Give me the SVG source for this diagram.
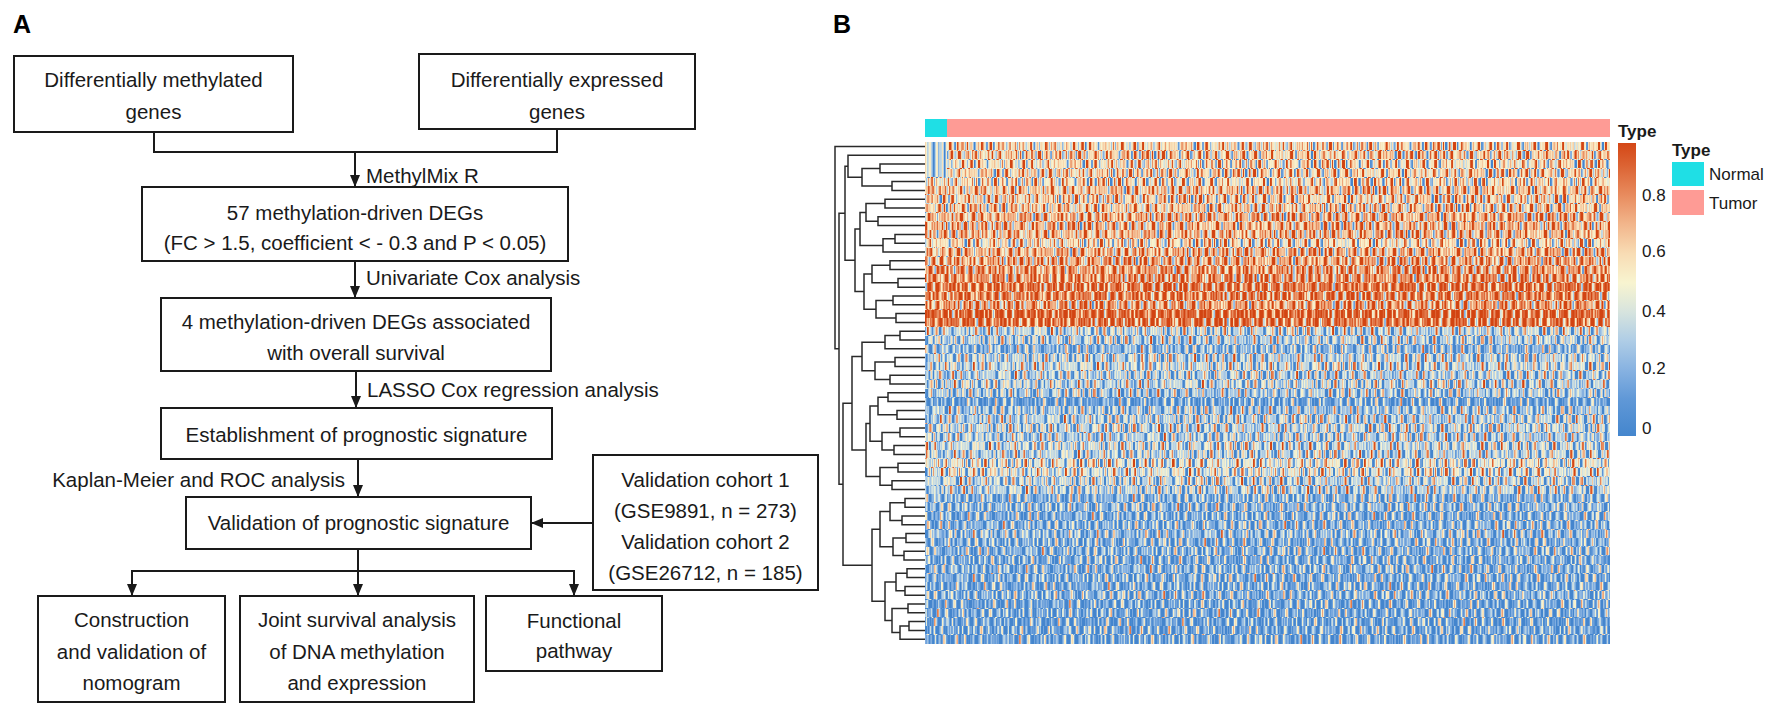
<svg xmlns="http://www.w3.org/2000/svg" width="1772" height="714" viewBox="0 0 1772 714">
<style>
.box{fill:#fff;stroke:#1a1a1a;stroke-width:2}
.t{font-family:"Liberation Sans",Arial,sans-serif;font-size:20.5px;fill:#1a1a1a;text-anchor:middle}
.lbl{font-family:"Liberation Sans",Arial,sans-serif;font-size:20.5px;fill:#1a1a1a}
.conn{fill:none;stroke:#1a1a1a;stroke-width:2}
.dendro{fill:none;stroke:#2a2a2a;stroke-width:1.5}
.panel{font-family:"Liberation Sans",Arial,sans-serif;font-size:25px;font-weight:bold;fill:#000}
.leg{font-family:"Liberation Sans",Arial,sans-serif;font-size:17px;fill:#1a1a1a}
.legb{font-family:"Liberation Sans",Arial,sans-serif;font-size:17px;font-weight:bold;fill:#1a1a1a}
</style>
<defs>
<marker id="arr" viewBox="0 0 12 10" refX="12" refY="5" markerWidth="12" markerHeight="10" markerUnits="userSpaceOnUse" orient="auto">
<path d="M0,0 L12,5 L0,10 z" fill="#1a1a1a"/>
</marker>
<linearGradient id="cbar" x1="0" y1="0" x2="0" y2="1">
<stop offset="0" stop-color="#d44716"/>
<stop offset="0.079" stop-color="#dc6434"/>
<stop offset="0.179" stop-color="#e88c5f"/>
<stop offset="0.278" stop-color="#f2b68c"/>
<stop offset="0.377" stop-color="#f8dcb4"/>
<stop offset="0.477" stop-color="#f8f4d0"/>
<stop offset="0.576" stop-color="#d7e4de"/>
<stop offset="0.675" stop-color="#afcde6"/>
<stop offset="0.775" stop-color="#87b2e1"/>
<stop offset="0.874" stop-color="#6098d7"/>
<stop offset="1" stop-color="#4486cd"/>
</linearGradient>
<clipPath id="hmClip"><rect x="925" y="142" width="685" height="502"/></clipPath>
<filter id="hmNoise" x="690" y="130" width="1160" height="530" filterUnits="userSpaceOnUse" primitiveUnits="userSpaceOnUse" color-interpolation-filters="sRGB">
<feTurbulence type="fractalNoise" baseFrequency="0.25 0" numOctaves="2" seed="11" result="t"/>
<feColorMatrix in="t" type="matrix" values="1 0 0 0 0  1 0 0 0 0  1 0 0 0 0  0 0 0 0 1" result="n"/>
<feDisplacementMap in="n" in2="SourceGraphic" scale="400" xChannelSelector="G" yChannelSelector="B" result="dn"/>
<feColorMatrix in="SourceGraphic" type="matrix" values="1 0 0 0 0  1 0 0 0 0  1 0 0 0 0  0 0 0 1 0" result="val"/>
<feComposite in="val" in2="dn" operator="arithmetic" k1="0" k2="1" k3="2.6" k4="-1.3" result="v"/>
<feComponentTransfer in="v" x="925" y="142" width="685" height="502">
<feFuncR type="table" tableValues="0.267 0.376 0.529 0.686 0.843 0.973 0.973 0.949 0.910 0.863 0.824"/>
<feFuncG type="table" tableValues="0.525 0.596 0.698 0.804 0.894 0.957 0.863 0.714 0.549 0.392 0.267"/>
<feFuncB type="table" tableValues="0.804 0.843 0.882 0.902 0.871 0.816 0.706 0.549 0.373 0.204 0.071"/>
</feComponentTransfer>
</filter>
</defs>
<rect width="1772" height="714" fill="#fff"/>

<text class="panel" x="13" y="33">A</text>
<text class="panel" x="833" y="33">B</text>

<g id="connectors">
<path class="conn" d="M154 132 V152 H557 V129"/>
<path class="conn" d="M355 152 V187" marker-end="url(#arr)"/>
<path class="conn" d="M355 261 V298" marker-end="url(#arr)"/>
<path class="conn" d="M356 371 V408" marker-end="url(#arr)"/>
<path class="conn" d="M358 459 V497" marker-end="url(#arr)"/>
<path class="conn" d="M593 523 H531" marker-end="url(#arr)"/>
<path class="conn" d="M358 549 V596" marker-end="url(#arr)"/>
<path class="conn" d="M132 596 V571 H574 V596"/>
<path class="conn" d="M132 571 V596" marker-end="url(#arr)"/>
<path class="conn" d="M574 571 V596" marker-end="url(#arr)"/>
<text class="lbl" x="366" y="183">MethylMix R</text>
<text class="lbl" x="366" y="285">Univariate Cox analysis</text>
<text class="lbl" x="367" y="397">LASSO Cox regression analysis</text>
<text class="lbl" x="345" y="487" text-anchor="end">Kaplan-Meier and ROC analysis</text>
</g>

<g id="dmg">
<rect class="box" x="14" y="56" width="279" height="76"/>
<text class="t" x="153.5" y="87">Differentially methylated</text>
<text class="t" x="153.5" y="119">genes</text>
</g>
<g id="deg">
<rect class="box" x="419" y="54" width="276" height="75"/>
<text class="t" x="557" y="87">Differentially expressed</text>
<text class="t" x="557" y="119">genes</text>
</g>
<g id="md57">
<rect class="box" x="142" y="187" width="426" height="74"/>
<text class="t" x="355" y="220">57 methylation-driven DEGs</text>
<text class="t" x="355" y="250">(FC &gt; 1.5, coefficient &lt; - 0.3 and P &lt; 0.05)</text>
</g>
<g id="md4">
<rect class="box" x="161" y="298" width="390" height="73"/>
<text class="t" x="356" y="329">4 methylation-driven DEGs associated</text>
<text class="t" x="356" y="360">with overall survival</text>
</g>
<g id="establish">
<rect class="box" x="161" y="408" width="391" height="51"/>
<text class="t" x="356.5" y="442">Establishment of prognostic signature</text>
</g>
<g id="validation">
<rect class="box" x="186" y="497" width="345" height="52"/>
<text class="t" x="358.5" y="530">Validation of prognostic signature</text>
</g>
<g id="cohorts">
<rect class="box" x="593" y="455" width="225" height="135"/>
<text class="t" x="705.5" y="487">Validation cohort 1</text>
<text class="t" x="705.5" y="518">(GSE9891, n = 273)</text>
<text class="t" x="705.5" y="549">Validation cohort 2</text>
<text class="t" x="705.5" y="580">(GSE26712, n = 185)</text>
</g>
<g id="nomogram">
<rect class="box" x="38" y="596" width="187" height="106"/>
<text class="t" x="131.5" y="627">Construction</text>
<text class="t" x="131.5" y="659">and validation of</text>
<text class="t" x="131.5" y="690">nomogram</text>
</g>
<g id="joint">
<rect class="box" x="240" y="596" width="234" height="106"/>
<text class="t" x="357" y="627">Joint survival analysis</text>
<text class="t" x="357" y="659">of DNA methylation</text>
<text class="t" x="357" y="690">and expression</text>
</g>
<g id="functional">
<rect class="box" x="486" y="596" width="176" height="75"/>
<text class="t" x="574" y="628">Functional</text>
<text class="t" x="574" y="658">pathway</text>
</g>

<g id="heatmap">
<g id="annotation">
<rect x="925" y="119" width="22" height="18" fill="#1fdfe5"/>
<rect x="947" y="119" width="663" height="18" fill="#fe9b95"/>
</g>
<g clip-path="url(#hmClip)">
<g id="cells" filter="url(#hmNoise)">
<rect x="925" y="142" width="685" height="9" fill="rgb(148,17,128)"/>
<rect x="925" y="150.8" width="685" height="9" fill="rgb(158,203,128)"/>
<rect x="925" y="159.6" width="685" height="9" fill="rgb(143,88,128)"/>
<rect x="925" y="168.4" width="685" height="9" fill="rgb(153,145,128)"/>
<rect x="925" y="177.2" width="685" height="9" fill="rgb(140,231,128)"/>
<rect x="925" y="186" width="685" height="9" fill="rgb(166,62,128)"/>
<rect x="925" y="194.8" width="685" height="9" fill="rgb(153,179,128)"/>
<rect x="925" y="203.6" width="685" height="9" fill="rgb(161,9,128)"/>
<rect x="925" y="212.4" width="685" height="9" fill="rgb(179,120,128)"/>
<rect x="925" y="221.2" width="685" height="9" fill="rgb(173,250,128)"/>
<rect x="925" y="230" width="685" height="9" fill="rgb(173,41,128)"/>
<rect x="925" y="238.8" width="685" height="9" fill="rgb(140,163,128)"/>
<rect x="925" y="247.6" width="685" height="9" fill="rgb(179,96,128)"/>
<rect x="925" y="256.4" width="685" height="9" fill="rgb(184,214,128)"/>
<rect x="925" y="265.2" width="685" height="9" fill="rgb(194,30,128)"/>
<rect x="925" y="274" width="685" height="9" fill="rgb(199,137,128)"/>
<rect x="925" y="282.8" width="685" height="9" fill="rgb(219,189,128)"/>
<rect x="925" y="291.6" width="685" height="9" fill="rgb(212,72,128)"/>
<rect x="925" y="300.4" width="685" height="9" fill="rgb(189,242,128)"/>
<rect x="925" y="309.2" width="685" height="9" fill="rgb(230,5,128)"/>
<rect x="925" y="318" width="685" height="9" fill="rgb(219,156,128)"/>
<rect x="925" y="326.8" width="685" height="9" fill="rgb(92,110,128)"/>
<rect x="925" y="335.6" width="685" height="9" fill="rgb(84,226,128)"/>
<rect x="925" y="344.4" width="685" height="9" fill="rgb(56,53,128)"/>
<rect x="925" y="353.2" width="685" height="9" fill="rgb(87,198,128)"/>
<rect x="925" y="362" width="685" height="9" fill="rgb(97,81,128)"/>
<rect x="925" y="370.8" width="685" height="9" fill="rgb(84,133,128)"/>
<rect x="925" y="379.6" width="685" height="9" fill="rgb(92,14,128)"/>
<rect x="925" y="388.4" width="685" height="9" fill="rgb(77,247,128)"/>
<rect x="925" y="397.2" width="685" height="9" fill="rgb(33,67,128)"/>
<rect x="925" y="406" width="685" height="9" fill="rgb(71,175,128)"/>
<rect x="925" y="414.8" width="685" height="9" fill="rgb(84,102,128)"/>
<rect x="925" y="423.6" width="685" height="9" fill="rgb(92,221,128)"/>
<rect x="925" y="432.4" width="685" height="9" fill="rgb(82,38,128)"/>
<rect x="925" y="441.2" width="685" height="9" fill="rgb(97,150,128)"/>
<rect x="925" y="450" width="685" height="9" fill="rgb(89,93,128)"/>
<rect x="925" y="458.8" width="685" height="9" fill="rgb(115,237,128)"/>
<rect x="925" y="467.6" width="685" height="9" fill="rgb(112,22,128)"/>
<rect x="925" y="476.4" width="685" height="9" fill="rgb(92,168,128)"/>
<rect x="925" y="485.2" width="685" height="9" fill="rgb(87,126,128)"/>
<rect x="925" y="494" width="685" height="9" fill="rgb(51,58,128)"/>
<rect x="925" y="502.8" width="685" height="9" fill="rgb(56,209,128)"/>
<rect x="925" y="511.6" width="685" height="9" fill="rgb(46,84,128)"/>
<rect x="925" y="520.4" width="685" height="9" fill="rgb(51,141,128)"/>
<rect x="925" y="529.2" width="685" height="9" fill="rgb(61,2,128)"/>
<rect x="925" y="538" width="685" height="9" fill="rgb(46,192,128)"/>
<rect x="925" y="546.8" width="685" height="9" fill="rgb(51,116,128)"/>
<rect x="925" y="555.6" width="685" height="9" fill="rgb(41,233,128)"/>
<rect x="925" y="564.4" width="685" height="9" fill="rgb(51,47,128)"/>
<rect x="925" y="573.2" width="685" height="9" fill="rgb(46,160,128)"/>
<rect x="925" y="582" width="685" height="9" fill="rgb(41,74,128)"/>
<rect x="925" y="590.8" width="685" height="9" fill="rgb(51,218,128)"/>
<rect x="925" y="599.6" width="685" height="9" fill="rgb(36,99,128)"/>
<rect x="925" y="608.4" width="685" height="9" fill="rgb(41,183,128)"/>
<rect x="925" y="617.2" width="685" height="9" fill="rgb(33,27,128)"/>
<rect x="925" y="626" width="685" height="9" fill="rgb(38,240,128)"/>
<rect x="925" y="634.8" width="685" height="9.2" fill="rgb(36,131,128)"/>
<rect x="925" y="142" width="22" height="35.2" fill="rgb(82,64,128)"/>
</g>
</g>
<g id="dendrogram" class="dendro">
<path d="M925 146.4 H835 V348.7 H839"/>
<path d="M845 213.2 H839 V484.2 H843"/>
<path d="M848 166.2 H845 V260.25 H855"/>
<path d="M925 155.2 H848 V177.2 H862"/>
<path d="M880 168.4 H862 V186 H892"/>
<path d="M925 164 H880 V172.8 H925"/>
<path d="M925 181.6 H892 V190.4 H925"/>
<path d="M860 228.9 H855 V291.6 H864"/>
<path d="M866 212.4 H860 V245.4 H883"/>
<path d="M885 203.6 H866 V221.2 H878"/>
<path d="M925 199.2 H885 V208 H925"/>
<path d="M925 216.8 H878 V225.6 H925"/>
<path d="M895 238.8 H883 V252 H925"/>
<path d="M925 234.4 H895 V243.2 H925"/>
<path d="M872 274 H864 V309.2 H876"/>
<path d="M890 265.2 H872 V282.8 H898"/>
<path d="M925 260.8 H890 V269.6 H925"/>
<path d="M925 278.4 H898 V287.2 H925"/>
<path d="M893 300.4 H876 V318 H896"/>
<path d="M925 296 H893 V304.8 H925"/>
<path d="M925 313.6 H896 V322.4 H925"/>
<path d="M852 403.25 H843 V565.2 H872"/>
<path d="M862 356.5 H852 V450 H866"/>
<path d="M885 342.2 H862 V370.8 H875"/>
<path d="M900 335.6 H885 V348.8 H925"/>
<path d="M925 331.2 H900 V340 H925"/>
<path d="M895 362 H875 V379.6 H890"/>
<path d="M925 357.6 H895 V366.4 H925"/>
<path d="M925 375.2 H890 V384 H925"/>
<path d="M870 423.6 H866 V476.4 H880"/>
<path d="M878 406 H870 V441.2 H882"/>
<path d="M888 397.2 H878 V414.8 H897"/>
<path d="M925 392.8 H888 V401.6 H925"/>
<path d="M925 410.4 H897 V419.2 H925"/>
<path d="M900 432.4 H882 V450 H894"/>
<path d="M925 428 H900 V436.8 H925"/>
<path d="M925 445.6 H894 V454.4 H925"/>
<path d="M898 467.6 H880 V485.2 H892"/>
<path d="M925 463.2 H898 V472 H925"/>
<path d="M925 480.8 H892 V489.6 H925"/>
<path d="M880 529.2 H872 V601.25 H885"/>
<path d="M890 511.6 H880 V546.8 H893"/>
<path d="M905 502.8 H890 V520.4 H902"/>
<path d="M925 498.4 H905 V507.2 H925"/>
<path d="M925 516 H902 V524.8 H925"/>
<path d="M906 538 H893 V555.6 H904"/>
<path d="M925 533.6 H906 V542.4 H925"/>
<path d="M925 551.2 H904 V560 H925"/>
<path d="M896 582 H885 V620.5 H892"/>
<path d="M907 573.2 H896 V590.8 H905"/>
<path d="M925 568.8 H907 V577.6 H925"/>
<path d="M925 586.4 H905 V595.2 H925"/>
<path d="M908 608.4 H892 V632.6 H900"/>
<path d="M925 604 H908 V612.8 H925"/>
<path d="M909 626 H900 V639.2 H925"/>
<path d="M925 621.6 H909 V630.4 H925"/>
</g>
</g>

<g id="colorbar">
<text class="legb" x="1618" y="137">Type</text>
<rect x="1618" y="143" width="18" height="293" fill="url(#cbar)"/>
<text class="leg" x="1642" y="201">0.8</text>
<text class="leg" x="1642" y="257">0.6</text>
<text class="leg" x="1642" y="317">0.4</text>
<text class="leg" x="1642" y="374">0.2</text>
<text class="leg" x="1642" y="434">0</text>
</g>
<g id="legend">
<text class="legb" x="1672" y="156">Type</text>
<rect x="1672" y="162" width="32" height="24" fill="#1fdfe5"/>
<rect x="1672" y="190" width="32" height="25" fill="#fe9b95"/>
<text class="leg" x="1709" y="180">Normal</text>
<text class="leg" x="1709" y="209">Tumor</text>
</g>
</svg>
